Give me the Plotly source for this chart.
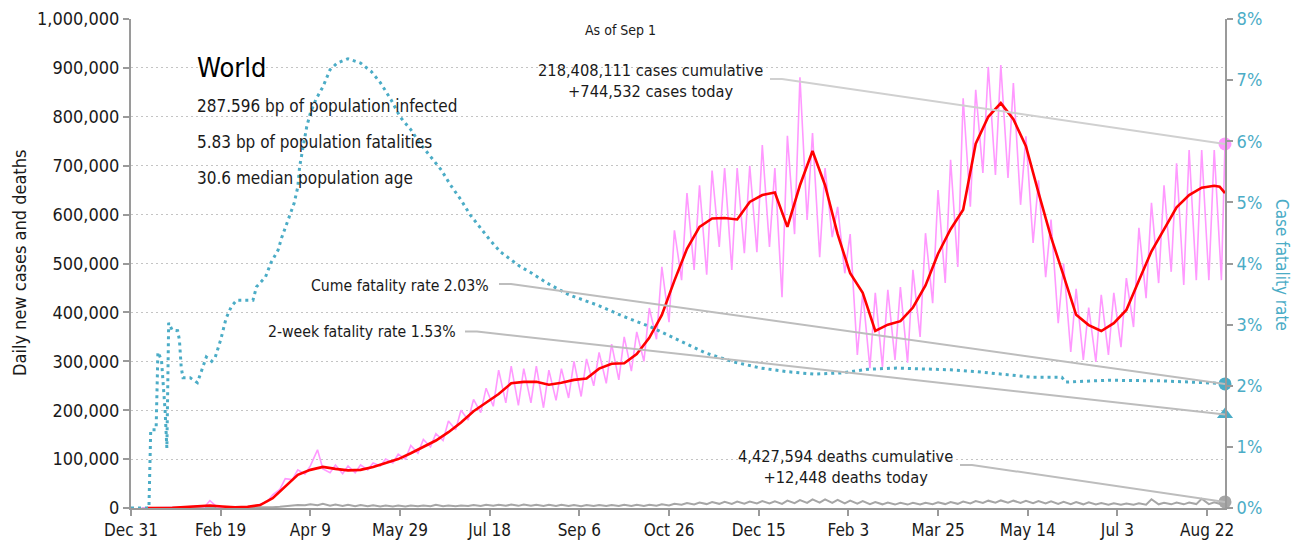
import pandas as pd
import plotly.graph_objects as go

# ---------------- data ----------------
ORIGIN = "2019-12-31"
WEEK0 = "2020-01-06"          # first Monday shown

# daily new cases, thousands: weekly low (Monday) and high (Thursday)
case_low = [0, 0, 0.1, 1.5, 2.9, 2.0, 2.0, 0.6, 1.8, 4.0,
            13, 38, 58, 69, 119, 72, 70, 72, 78, 86,
            92, 100, 112, 125, 138, 160, 180, 195, 208, 215,
            210, 215, 205, 220, 225, 228, 250, 255, 262, 280,
            300, 345, 380, 466, 487, 477, 534, 487, 521, 523,
            534, 431, 560, 589, 513, 554, 480, 313, 286, 288,
            303, 297, 350, 419, 460, 493, 616, 685, 681, 675,
            620, 542, 472, 378, 319, 303, 299, 313, 329, 370,
            429, 460, 483, 456, 466, 466, 466]
case_high = [0.05, 0.1, 0.7, 2.1, 3.9, 15.2, 1.0, 1.5, 2.6, 8,
             27, 60, 78, 86, 80, 88, 86, 88, 92, 100,
             110, 128, 140, 152, 178, 200, 222, 245, 282, 290,
             285, 290, 282, 285, 300, 305, 318, 335, 350, 360,
             409, 493, 568, 644, 660, 690, 695, 695, 700, 742,
             695, 761, 881, 767, 695, 616, 560, 440, 440, 446,
             452, 487, 562, 650, 712, 838, 855, 902, 906, 869,
             760, 670, 590, 500, 448, 410, 436, 440, 470, 573,
             624, 660, 705, 732, 732, 732]
cases_today = 744532

# 7-day average of cases, thousands, one value per week (Thursday)
case_avg = [0, 0.1, 0.5, 2, 3, 5, 3, 1.5, 2.5, 6,
            20, 45, 68, 78, 84, 80, 77, 78, 84, 92,
            100, 112, 125, 138, 155, 175, 198, 215, 233, 255,
            258, 258, 252, 256, 262, 265, 285, 295, 296, 315,
            348, 395, 465, 530, 575, 592, 593, 590, 626, 640,
            645, 575, 660, 730, 660, 560, 480, 440, 362, 375,
            382, 410, 455, 520, 570, 610, 745, 800, 828, 795,
            740, 645, 554, 475, 395, 374, 362, 378, 405, 465,
            525, 570, 615, 640, 655, 659]
case_avg_tail_dates = ["2021-08-29", "2021-09-01"]
case_avg_tail = [657, 644]

# daily deaths, thousands: weekly low (Monday) and high (Thursday)
death_low = [0, 0, 0.02, 0.05, 0.08, 0.1, 0.1, 0.05, 0.1, 0.3,
             0.9, 2.5, 4.5, 5.5, 5.5, 4.5, 4.0, 3.8, 3.5, 3.0,
             3.0, 3.2, 3.5, 3.6, 3.8, 3.8, 4.0, 4.2, 4.5, 4.5,
             4.4, 4.5, 4.3, 4.2, 4.0, 3.8, 4.3, 4.2, 4.0, 4.0,
             4.2, 4.5, 5.2, 6.5, 7.2, 8.0, 8.5, 8.5, 8.8, 9.2,
             9.5, 8.5, 10.0, 10.5, 11.0, 10.5, 9.5, 9.0, 8.0, 7.5,
             7.0, 7.0, 7.2, 7.8, 8.0, 8.5, 9.5, 10.5, 11.0, 11.0,
             10.5, 10.0, 9.5, 8.5, 8.0, 7.5, 7.0, 6.5, 6.5, 6.5,
             6.8, 7.5, 7.5, 7.5, 8.0, 8.0, 7.5]
death_high = [0, 0, 0.03, 0.05, 0.1, 0.25, 0.1, 0.05, 0.1, 0.5,
              1.5, 3.5, 6.2, 7.8, 8.5, 7.0, 6.5, 6.0, 5.5, 5.2,
              5.0, 5.3, 5.2, 6.5, 5.2, 5.2, 6.0, 6.5, 6.8, 7.0,
              7.0, 6.8, 6.8, 6.5, 6.2, 6.0, 6.3, 6.3, 6.4, 6.5,
              6.8, 7.5, 8.5, 10.0, 11.0, 12.0, 12.5, 13.0, 13.2, 14.0,
              13.5, 15.0, 16.0, 17.5, 17.5, 16.5, 15.0, 14.0, 12.0, 11.0,
              10.5, 10.5, 10.8, 11.5, 12.0, 13.0, 14.0, 15.0, 15.5, 15.0,
              14.5, 14.0, 13.5, 12.5, 12.0, 11.5, 10.0, 9.5, 9.0, 9.5,
              18.0, 10.5, 11.0, 11.0, 19.0, 11.5]
deaths_today = 12448

# cumulative case fatality rate (%), by day since Dec 31, 2019
cfr_day = [0, 10, 11, 14, 15, 17, 19, 20, 21, 23, 26, 27, 28, 29, 33, 37, 40, 42,
           45, 47, 50, 53, 56, 59, 64, 68, 70, 75, 78, 82, 84, 88, 91, 93, 94, 96,
           98, 100, 103, 107, 111, 115, 121, 128, 134, 139, 145, 150, 156, 161,
           167, 173, 178, 184, 189, 195, 200, 206, 212, 217, 223, 232, 244, 260,
           275, 290, 305, 320, 336, 351, 366, 381, 396, 411, 427, 442, 457, 472,
           487, 502, 519, 521, 545, 575, 606, 610]
cfr_pct = [0, 0, 1.28, 1.28, 2.55, 2.42, 1.6, 0.98, 3.03, 2.91, 2.9, 2.75, 2.3, 2.13,
           2.13, 2.05, 2.3, 2.47, 2.4, 2.47, 2.75, 3.1, 3.3, 3.4, 3.4, 3.4, 3.62,
           3.78, 4.01, 4.22, 4.42, 4.75, 4.99, 5.25, 5.58, 5.91, 6.24, 6.46, 6.68,
           6.89, 7.17, 7.28, 7.35, 7.28, 7.14, 6.96, 6.68, 6.40, 6.19, 5.97, 5.74,
           5.53, 5.29, 5.04, 4.80, 4.58, 4.39, 4.19, 4.06, 3.95, 3.85, 3.68, 3.49,
           3.32, 3.13, 2.96, 2.75, 2.54, 2.39, 2.29, 2.23, 2.19, 2.21, 2.27, 2.29,
           2.28, 2.26, 2.23, 2.19, 2.14, 2.14, 2.06, 2.09, 2.08, 2.04, 2.03]
cume_cfr = 2.03
twoweek_cfr = 1.53

TODAY = "2021-09-01"
x_tick_step_days = 50
title_lines = ["World", "287.596 bp of population infected",
               "5.83 bp of population fatalities", "30.6 median population age"]

# ---------------- build series ----------------
week_start = pd.date_range(WEEK0, periods=len(case_low), freq="7D")
def zig(lows, highs, last_date, last_val):
    xs, ys = [], []
    for i, d in enumerate(week_start):
        xs.append(d); ys.append(lows[i] * 1000)
        if i < len(highs):
            xs.append(d + pd.Timedelta(days=3)); ys.append(highs[i] * 1000)
    xs.append(pd.Timestamp(last_date)); ys.append(last_val)
    return xs, ys

cx, cy = zig(case_low, case_high, TODAY, cases_today)
dx_, dy_ = zig(death_low, death_high, TODAY, deaths_today)
avg_x = list(week_start[:len(case_avg)] + pd.Timedelta(days=3)) + [pd.Timestamp(d) for d in case_avg_tail_dates]
avg_y = [v * 1000 for v in case_avg] + [v * 1000 for v in case_avg_tail]
cfr_x = [pd.Timestamp(ORIGIN) + pd.Timedelta(days=d) for d in cfr_day]
cfr_y = [v / 100 for v in cfr_pct]

FONT = "'Liberation Sans Narrow', 'Arial Narrow', 'DejaVu Sans Condensed', sans-serif"
PINK = "#ff99ff"; RED = "#ff0000"; TEAL = "#4bacc6"; GREY = "#a6a6a6"; TXT = "#1a1a1a"

fig = go.Figure()
fig.add_trace(go.Scatter(x=dx_, y=dy_, mode="lines", line=dict(color=GREY, width=2), hoverinfo="skip"))
fig.add_trace(go.Scatter(x=cx, y=cy, mode="lines", line=dict(color=PINK, width=1.6), hoverinfo="skip"))
fig.add_trace(go.Scatter(x=avg_x, y=avg_y, mode="lines", line=dict(color=RED, width=2.6), hoverinfo="skip"))
fig.add_trace(go.Scatter(x=cfr_x, y=cfr_y, mode="lines", yaxis="y2",
                         line=dict(color=TEAL, width=3, dash="3px,4px"), hoverinfo="skip"))
# end-point markers
fig.add_trace(go.Scatter(x=[TODAY], y=[cases_today], mode="markers", cliponaxis=False,
                         marker=dict(color=PINK, size=13)))
fig.add_trace(go.Scatter(x=[TODAY], y=[deaths_today], mode="markers", cliponaxis=False,
                         marker=dict(color=GREY, size=13)))
fig.add_trace(go.Scatter(x=[TODAY], y=[cume_cfr / 100], mode="markers", yaxis="y2", cliponaxis=False,
                         marker=dict(color=TEAL, size=13)))
fig.add_trace(go.Scatter(x=[TODAY], y=[twoweek_cfr / 100], mode="markers", yaxis="y2", cliponaxis=False,
                         marker=dict(color=TEAL, size=14, symbol="triangle-up")))

# connector lines from labels to the end markers (pixel offsets)
def connector(yval, yref, dx, dy, color="#bdbdbd"):
    fig.add_shape(type="path", xref="x", yref=yref, xsizemode="pixel", ysizemode="pixel",
                  xanchor=TODAY, yanchor=yval,
                  path=f"M 0 0 L {-dx + 12} {dy} L {-dx} {dy}",
                  line=dict(color=color, width=2), layer="above")
connector(cases_today, "y", 455, 65, "#d0d0d0")
connector(cume_cfr / 100, "y2", 726, 100)
connector(twoweek_cfr / 100, "y2", 760, 83)
connector(deaths_today, "y", 265, 37)

L, R, T, B = 131, 72, 19, 39
W, H = 1297, 547
PW, PH = W - L - R, H - T - B
def px(x): return (x - L) / PW
def py(y): return (H - B - y) / PH

ann = []
ann.append(dict(text=title_lines[0], x=px(195), y=py(67), font=dict(size=27, color="#000"), xanchor="left"))
for t, yy in zip(title_lines[1:], [106, 142, 178]):
    ann.append(dict(text=t, x=px(195), y=py(yy), font=dict(size=17, color=TXT), xanchor="left"))
ann.append(dict(text="As of Sep 1", x=px(620), y=py(30), font=dict(size=14, color=TXT), xanchor="center"))
ann.append(dict(text=f"218,408,111 cases cumulative<br>+{cases_today:,} cases today", x=px(650), y=py(81),
                font=dict(size=16.3, color=TXT), xanchor="center"))
ann.append(dict(text=f"Cume fatality rate {cume_cfr:.2f}%", x=px(491), y=py(285), font=dict(size=15.7, color=TXT), xanchor="right"))
ann.append(dict(text=f"2-week fatality rate {twoweek_cfr:.2f}%", x=px(458), y=py(332), font=dict(size=15.7, color=TXT), xanchor="right"))
ann.append(dict(text=f"4,427,594 deaths cumulative<br>+{deaths_today:,} deaths today", x=px(845), y=py(467),
                font=dict(size=16.3, color=TXT), xanchor="center"))
ann.append(dict(text="Daily new cases and deaths", x=px(19), y=py(263), textangle=-90,
                font=dict(size=18, color=TXT), xanchor="center"))
ann.append(dict(text="Case fatality rate", x=px(1282), y=py(265), textangle=90,
                font=dict(size=17, color=TEAL), xanchor="center"))
for a in ann:
    a.update(xref="paper", yref="paper", showarrow=False, yanchor="middle")

fig.update_layout(
    width=W, height=H, margin=dict(l=L, r=R, t=T, b=B, autoexpand=False),
    paper_bgcolor="white", plot_bgcolor="white", showlegend=False,
    font=dict(family=FONT, size=17, color=TXT),
    annotations=ann,
    xaxis=dict(type="date", range=[ORIGIN, TODAY], tick0=ORIGIN, dtick=x_tick_step_days * 86400000,
               tickformat="%b %-d", showgrid=False, showline=True, linecolor="#9a9a9a", linewidth=2,
               ticks="outside", ticklen=6, tickcolor="#9a9a9a", tickwidth=1.5,
               tickfont=dict(size=17, color=TXT), zeroline=False),
    yaxis=dict(range=[0, 1000000], dtick=100000, tickformat=",d", showgrid=True,
               gridcolor="#c4c4c4", griddash="2px,3px", gridwidth=1.2, zeroline=False,
               showline=True, linecolor="#9a9a9a", linewidth=2, ticks="outside", ticklen=6,
               tickcolor="#9a9a9a", tickwidth=1.5, tickfont=dict(size=18, color=TXT)),
    yaxis2=dict(range=[0, 0.08], dtick=0.01, tickformat=".0%", overlaying="y", side="right",
                showgrid=False, zeroline=False, showline=True, linecolor="#9a9a9a", linewidth=2,
                ticks="outside", ticklen=6, tickcolor="#9a9a9a", tickwidth=1.5,
                tickfont=dict(size=18, color=TEAL)),
)
fig.write_html("out.html", config={"displayModeBar": False},
               post_script="document.body.style.margin='0';document.body.style.overflow='hidden';")
